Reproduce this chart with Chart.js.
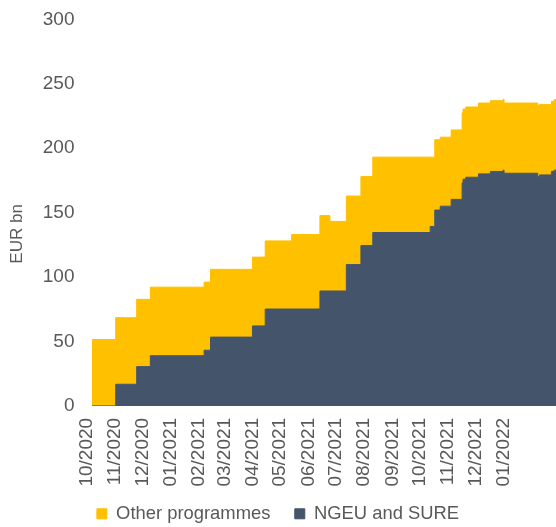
<!DOCTYPE html>
<html>
<head>
<meta charset="utf-8">
<script src="https://cdn.jsdelivr.net/npm/chart.js@4.4.1/dist/chart.umd.min.js"></script>
<style>
  html, body { margin: 0; padding: 0; background: #ffffff; }
  #wrap { width: 556px; height: 527px; position: relative; }
</style>
</head>
<body>
<div id="wrap"><canvas id="c" width="556" height="527"></canvas></div>
<script>
// ---- data (EUR bn) ----
const tickDates = ['2020-10-01','2020-11-01','2020-12-01','2021-01-01','2021-02-01','2021-03-01',
  '2021-04-01','2021-05-01','2021-06-01','2021-07-01','2021-08-01','2021-09-01','2021-10-01',
  '2021-11-01','2021-12-01','2022-01-01'];
const tickLabels = ['10/2020','11/2020','12/2020','01/2021','02/2021','03/2021','04/2021','05/2021',
  '06/2021','07/2021','08/2021','09/2021','10/2021','11/2021','12/2021','01/2022'];

const stepDates = ['2020-10-01','2020-10-27','2020-11-19','2020-12-04','2021-02-01','2021-02-08',
  '2021-03-26','2021-04-09','2021-05-08','2021-06-08','2021-06-19','2021-07-07','2021-07-23',
  '2021-08-05','2021-10-07','2021-10-12','2021-10-18','2021-10-30','2021-11-11','2021-11-12',
  '2021-11-15','2021-11-29','2021-12-12','2021-12-26','2021-12-27','2022-02-02','2022-02-04',
  '2022-02-17','2022-02-20','2022-02-22'];
const ngeuSure = [0, 16.8, 30.5, 39.0, 43.2, 53.4, 62.1, 75.2, 75.2, 89.2, 89.2, 109.7, 124.5,
  134.6, 139.3, 152.0, 155.0, 160.3, 173.0, 176.0, 177.5, 180.1, 182.0, 183.0, 180.6, 178.0,
  179.3, 182.0, 183.0, 183.0];
const otherProgrammes = [51.5, 51.7, 52.2, 53.2, 52.9, 52.6, 53.4, 52.9, 57.8, 58.5, 54.0, 53.2,
  53.5, 58.5, 53.8, 54.6, 53.6, 53.9, 54.5, 54.4, 54.5, 55.0, 54.9, 55.0, 54.5, 55.3, 54.7,
  54.4, 54.7, 54.7];
const seriesNames = ['Other programmes', 'NGEU and SURE'];
const yTitle = 'EUR bn';
const axisStart = '2020-10-01';
const axisEnd = '2022-02-22';

// ---- helpers ----
const DAY = 86400000;
const toDay = s => (Date.parse(s) - Date.parse(axisStart)) / DAY;
const tickValues = tickDates.map(toDay);
const labelFor = {};
tickValues.forEach((v, i) => { labelFor[v] = tickLabels[i]; });

const ptsN = stepDates.map((d, i) => ({ x: toDay(d), y: ngeuSure[i] }));
const ptsO = stepDates.map((d, i) => ({ x: toDay(d), y: otherProgrammes[i] }));

const FONT = "'Liberation Sans', Arial, sans-serif";
const TXT = '#595959';
const EN = '\u2002';

new Chart(document.getElementById('c'), {
  type: 'line',
  data: {
    datasets: [
      {
        label: seriesNames[1],
        data: ptsN,
        stepped: true,
        fill: 'origin',
        backgroundColor: '#44546A',
        borderColor: '#44546A',
        borderWidth: 1,
        pointRadius: 0
      },
      {
        label: seriesNames[0],
        data: ptsO,
        stepped: true,
        fill: '-1',
        backgroundColor: '#FFC000',
        borderColor: '#FFC000',
        borderWidth: 1,
        pointRadius: 0
      }
    ]
  },
  options: {
    responsive: false,
    animation: false,
    events: [],
    layout: { padding: { left: 0, right: 0, top: 0, bottom: -6 } },
    scales: {
      x: {
        type: 'linear',
        min: toDay(axisStart),
        max: toDay(axisEnd),
        grid: { display: false, drawTicks: false },
        border: { display: true, color: '#D9D9D9', width: 1 },
        afterBuildTicks: scale => { scale.ticks = tickValues.map(v => ({ value: v })); },
        ticks: {
          autoSkip: false,
          minRotation: 90,
          maxRotation: 90,
          padding: 12,
          labelOffset: -5,
          color: TXT,
          font: { family: FONT, size: 19 },
          callback: v => labelFor[v] || ''
        }
      },
      y: {
        stacked: true,
        min: 0,
        max: 300,
        grid: { display: false, drawTicks: false },
        border: { display: false },
        ticks: {
          stepSize: 50,
          padding: 8,
          color: TXT,
          font: { family: FONT, size: 19 },
          callback: v => v + EN
        },
        title: {
          display: true,
          text: yTitle + EN.repeat(5),
          color: TXT,
          font: { family: FONT, size: 17 },
          padding: { top: 7, bottom: 7.4 }
        }
      }
    },
    plugins: {
      legend: {
        position: 'bottom',
        reverse: true,
        labels: {
          boxWidth: 10,
          boxHeight: 10,
          padding: 6,
          color: TXT,
          font: { family: FONT, size: 18.4 },
          generateLabels: chart => {
            const items = Chart.defaults.plugins.legend.labels.generateLabels(chart);
            items.forEach(it => { if (it.text === seriesNames[0]) it.text = it.text + EN + EN; });
            return items;
          }
        }
      },
      tooltip: { enabled: false }
    }
  }
});
</script>
</body>
</html>
